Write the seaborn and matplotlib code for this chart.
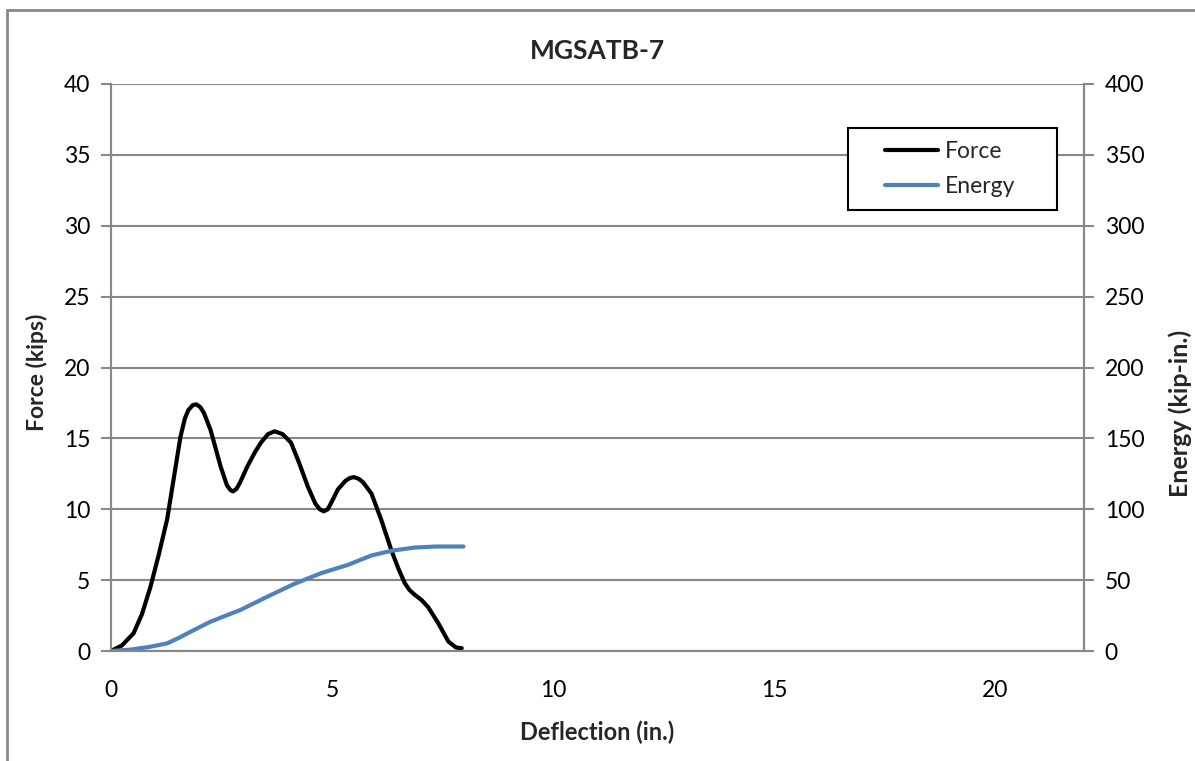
import matplotlib
matplotlib.use("Agg")
import matplotlib.pyplot as plt
import seaborn as sns
import pandas as pd
from matplotlib.lines import Line2D
from matplotlib.patches import Rectangle

defl_force = [0, 0.25, 0.51, 0.7, 0.89, 1.08, 1.27, 1.42, 1.57, 1.67, 1.75, 1.85, 1.93, 2.02, 2.1, 2.25,
              2.48, 2.62, 2.70, 2.76, 2.84, 2.92, 3.08, 3.25, 3.39, 3.55, 3.70, 3.88, 4.07, 4.25,
              4.45, 4.62, 4.72, 4.81, 4.90, 4.97, 5.13, 5.30, 5.40, 5.49, 5.60, 5.70, 5.89, 6.11,
              6.34, 6.50, 6.64, 6.75, 6.87, 7.02, 7.17, 7.40, 7.63, 7.80, 7.93]
force = [0, 0.4, 1.25, 2.6, 4.5, 6.8, 9.3, 12.2, 15.1, 16.4, 17.0, 17.35, 17.4, 17.2, 16.8, 15.6,
         13.0, 11.7, 11.35, 11.26, 11.45, 11.9, 13.0, 14.0, 14.7, 15.3, 15.5, 15.3, 14.7, 13.3,
         11.6, 10.4, 10.0, 9.85, 10.0, 10.4, 11.4, 12.0, 12.2, 12.27, 12.15, 11.9, 11.1, 9.26,
         7.1, 5.8, 4.8, 4.3, 3.96, 3.6, 3.1, 1.96, 0.66, 0.25, 0.2]

defl_energy = [0, 0.45, 0.89, 1.27, 1.55, 1.80, 2.25, 2.93, 3.54, 4.14, 4.75, 5.36, 5.89, 6.34,
               6.87, 7.33, 7.97]
energy = [0, 1, 3, 5.4, 9.5, 13.6, 20.7, 29, 38.4, 47.3, 54.9, 60.8, 67.4, 70.7, 73, 73.7, 73.7]

title = "MGSATB-7"

sns.set_theme(style="white")
plt.rcParams['font.family'] = ['Lato', 'DejaVu Sans']

W, H = 1195, 761
fig = plt.figure(figsize=(11.95, 7.61), dpi=100)
ax = fig.add_axes([111/W, 1-651/H, (1084-111)/W, (651-84)/H])
ax2 = ax.twinx()

df_f = pd.DataFrame({"Deflection": defl_force, "Force": force})
df_e = pd.DataFrame({"Deflection": defl_energy, "Energy": energy})

sns.lineplot(data=df_f, x="Deflection", y="Force", ax=ax, color="black", lw=3, sort=False,
             estimator=None, zorder=3, solid_joinstyle="round", solid_capstyle="round")
sns.lineplot(data=df_e, x="Deflection", y="Energy", ax=ax2, color="#4F81BD", lw=3, sort=False,
             estimator=None, solid_joinstyle="round")

gray = "#888888"
ax.set_xlim(0, 22)
ax.set_ylim(0, 40)
ax2.set_ylim(0, 400)
ax.set_xticks([0, 5, 10, 15, 20])
ax.set_yticks(range(0, 41, 5))
ax2.set_yticks(range(0, 401, 50))
ax.yaxis.grid(True, color=gray, lw=1.5)
ax.set_axisbelow(True)

for a in (ax, ax2):
    for s in a.spines.values():
        s.set_color(gray)
        s.set_linewidth(1.5)
    a.spines['top'].set_visible(False)
    a.tick_params(colors=gray, labelcolor="black", labelsize=16.5, width=1.5, length=7, direction="out")

ax.tick_params(axis="x", pad=14)
ax.tick_params(axis="y", left=True, pad=8)
ax2.tick_params(axis="y", right=True, pad=8)

ax.set_xlabel("Deflection (in.)", fontsize=17, fontweight="bold", labelpad=14)
ax.set_ylabel("Force (kips)", fontsize=16.5, fontweight="bold", va="center")
ax.yaxis.set_label_coords((37-111)/(1084-111), (651-372)/567)
ax2.set_ylabel("Energy (kip-in.)", fontsize=18, fontweight="bold", va="center")
ax2.yaxis.set_label_coords((1180-111)/(1084-111), (651-413)/567)
ax.set_title(title, fontsize=19, fontweight="bold", pad=18)

# legend frame
fig.add_artist(Rectangle((848/W, 1-210/H), (1057-848)/W, (210-128)/H, transform=fig.transFigure,
                         facecolor="white", edgecolor="black", lw=1.5, zorder=5))
handles = [Line2D([0], [0], color="black", lw=3), Line2D([0], [0], color="#4F81BD", lw=3)]
leg = fig.legend(handles, ["Force", "Energy"], loc="center left",
                 bbox_to_anchor=(885/W, 1-169/H),
                 fontsize=16.5, frameon=False, handlelength=2.3,
                 borderpad=0, labelspacing=0.6, borderaxespad=0, handletextpad=0.3)
leg.set_zorder(6)

fig.add_artist(Line2D([7/W, 1], [1-10/H, 1-10/H], color=gray, lw=2, transform=fig.transFigure))
fig.add_artist(Line2D([7/W, 7/W], [0, 1-10/H], color=gray, lw=2, transform=fig.transFigure))

fig.savefig("out.png", dpi=100)
